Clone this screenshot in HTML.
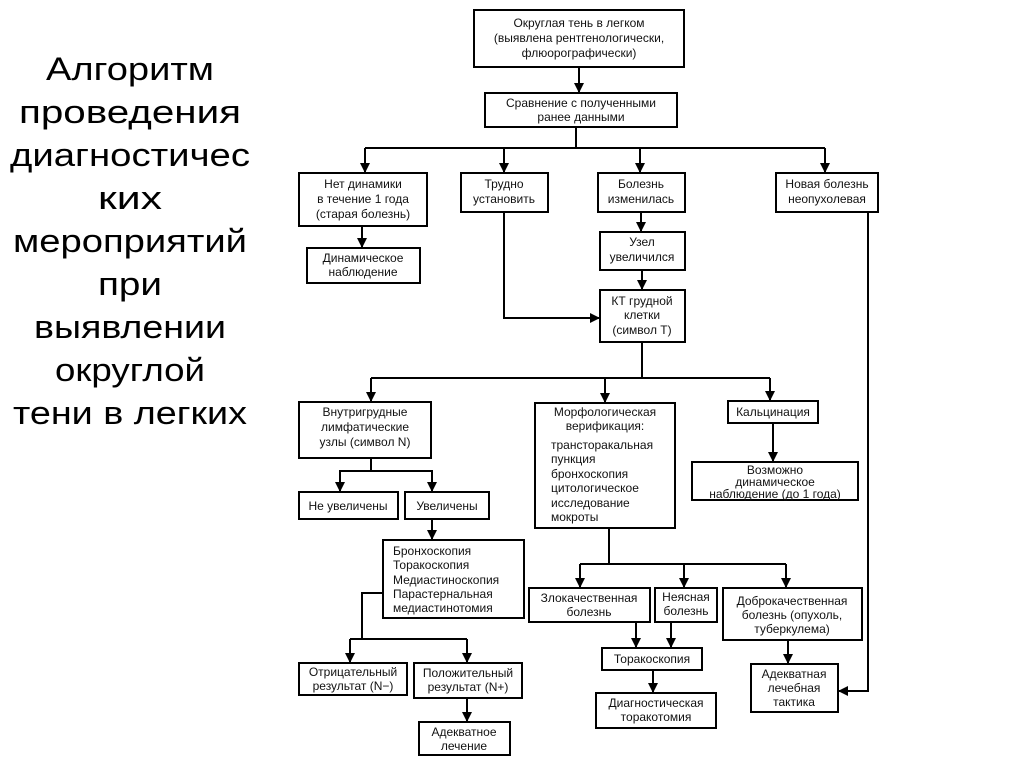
<!DOCTYPE html>
<html><head><meta charset="utf-8"><style>
html,body{margin:0;padding:0;background:#fff;width:1024px;height:768px;overflow:hidden}
svg{display:block}
.t{font-family:"Liberation Sans",Arial,sans-serif;font-size:32px;fill:#000;text-anchor:middle}
.b{font-family:"Liberation Sans",Arial,sans-serif;font-size:12px;fill:#111;text-anchor:middle}
.l{font-family:"Liberation Sans",Arial,sans-serif;font-size:12px;fill:#111;text-anchor:start}
rect{fill:#fff;stroke:#000;stroke-width:2}
line,polyline{stroke:#000;stroke-width:2;fill:none}
</style></head><body>
<svg width="1024" height="768" viewBox="0 0 1024 768" xmlns="http://www.w3.org/2000/svg">
<defs><marker id="a" markerWidth="10" markerHeight="10" refX="9" refY="5" orient="auto" markerUnits="userSpaceOnUse"><path d="M0,0 L10,5 L0,10 z" fill="#000"/></marker></defs>
<g>
<text class="t" x="130" y="80" textLength="168" lengthAdjust="spacingAndGlyphs">Алгоритм</text>
<text class="t" x="130" y="123" textLength="222" lengthAdjust="spacingAndGlyphs">проведения</text>
<text class="t" x="130" y="166" textLength="240" lengthAdjust="spacingAndGlyphs">диагностичес</text>
<text class="t" x="130" y="209" textLength="64" lengthAdjust="spacingAndGlyphs">ких</text>
<text class="t" x="130" y="252" textLength="234" lengthAdjust="spacingAndGlyphs">мероприятий</text>
<text class="t" x="130" y="295" textLength="64" lengthAdjust="spacingAndGlyphs">при</text>
<text class="t" x="130" y="338" textLength="192" lengthAdjust="spacingAndGlyphs">выявлении</text>
<text class="t" x="130" y="381" textLength="150" lengthAdjust="spacingAndGlyphs">округлой</text>
<text class="t" x="130" y="424" textLength="234" lengthAdjust="spacingAndGlyphs">тени в легких</text>
</g>
<line x1="579" y1="67" x2="579" y2="92" marker-end="url(#a)"/>
<line x1="576" y1="127" x2="576" y2="147"/>
<line x1="365" y1="148" x2="825" y2="148"/>
<line x1="365" y1="148" x2="365" y2="172" marker-end="url(#a)"/>
<line x1="504" y1="148" x2="504" y2="172" marker-end="url(#a)"/>
<line x1="640" y1="148" x2="640" y2="172" marker-end="url(#a)"/>
<line x1="825" y1="148" x2="825" y2="172" marker-end="url(#a)"/>
<line x1="362" y1="226" x2="362" y2="247" marker-end="url(#a)"/>
<line x1="641" y1="212" x2="641" y2="231" marker-end="url(#a)"/>
<line x1="642" y1="270" x2="642" y2="289" marker-end="url(#a)"/>
<polyline points="504,212 504,318 599,318" marker-end="url(#a)"/>
<polyline points="868,212 868,691 839,691" marker-end="url(#a)"/>
<line x1="642" y1="342" x2="642" y2="378"/>
<line x1="371" y1="378" x2="770" y2="378"/>
<line x1="371" y1="378" x2="371" y2="401" marker-end="url(#a)"/>
<line x1="605" y1="378" x2="605" y2="402" marker-end="url(#a)"/>
<line x1="770" y1="378" x2="770" y2="400" marker-end="url(#a)"/>
<line x1="773" y1="423" x2="773" y2="461" marker-end="url(#a)"/>
<line x1="371" y1="458" x2="371" y2="471"/>
<polyline points="340,491 340,471 432,471 432,491"/>
<line x1="340" y1="480" x2="340" y2="491" marker-end="url(#a)"/>
<line x1="432" y1="480" x2="432" y2="491" marker-end="url(#a)"/>
<line x1="432" y1="519" x2="432" y2="539" marker-end="url(#a)"/>
<polyline points="383,593 362,593 362,639 467,639"/>
<line x1="350" y1="639" x2="362" y2="639"/>
<line x1="350" y1="639" x2="350" y2="662" marker-end="url(#a)"/>
<line x1="467" y1="639" x2="467" y2="662" marker-end="url(#a)"/>
<line x1="467" y1="698" x2="467" y2="721" marker-end="url(#a)"/>
<line x1="609" y1="528" x2="609" y2="564"/>
<line x1="580" y1="564" x2="786" y2="564"/>
<line x1="580" y1="564" x2="580" y2="587" marker-end="url(#a)"/>
<line x1="684" y1="564" x2="684" y2="587" marker-end="url(#a)"/>
<line x1="786" y1="564" x2="786" y2="587" marker-end="url(#a)"/>
<line x1="636" y1="622" x2="636" y2="647" marker-end="url(#a)"/>
<line x1="671" y1="622" x2="671" y2="647" marker-end="url(#a)"/>
<line x1="653" y1="670" x2="653" y2="692" marker-end="url(#a)"/>
<line x1="788" y1="640" x2="788" y2="663" marker-end="url(#a)"/>
<rect x="474" y="10" width="210" height="57"/>
<text class="b" x="579" y="27">Округлая тень в легком</text>
<text class="b" x="579" y="42">(выявлена рентгенологически,</text>
<text class="b" x="579" y="57">флюорографически)</text>
<rect x="485" y="93" width="192" height="34"/>
<text class="b" x="581" y="107">Сравнение с  полученными</text>
<text class="b" x="581" y="121">ранее данными</text>
<rect x="299" y="173" width="128" height="53"/>
<text class="b" x="363" y="188">Нет динамики</text>
<text class="b" x="363" y="203">в течение 1 года</text>
<text class="b" x="363" y="218">(старая болезнь)</text>
<rect x="461" y="173" width="87" height="39"/>
<text class="b" x="504" y="188">Трудно</text>
<text class="b" x="504" y="203">установить</text>
<rect x="598" y="173" width="87" height="39"/>
<text class="b" x="641" y="188">Болезнь</text>
<text class="b" x="641" y="203">изменилась</text>
<rect x="776" y="173" width="102" height="39"/>
<text class="b" x="827" y="188">Новая болезнь</text>
<text class="b" x="827" y="203">неопухолевая</text>
<rect x="307" y="248" width="113" height="35"/>
<text class="b" x="363" y="262">Динамическое</text>
<text class="b" x="363" y="276">наблюдение</text>
<rect x="600" y="232" width="85" height="38"/>
<text class="b" x="642" y="246">Узел</text>
<text class="b" x="642" y="261">увеличился</text>
<rect x="600" y="290" width="85" height="52"/>
<text class="b" x="642" y="305">КТ грудной</text>
<text class="b" x="642" y="319">клетки</text>
<text class="b" x="642" y="334">(символ Т)</text>
<rect x="299" y="402" width="132" height="56"/>
<text class="b" x="365" y="416">Внутригрудные</text>
<text class="b" x="365" y="431">лимфатические</text>
<text class="b" x="365" y="446">узлы (символ N)</text>
<rect x="535" y="403" width="140" height="125"/>
<text class="b" x="605" y="416">Морфологическая</text>
<text class="b" x="605" y="430">верификация:</text>
<text class="l" x="551" y="449">трансторакальная</text>
<text class="l" x="551" y="463">пункция</text>
<text class="l" x="551" y="478">бронхоскопия</text>
<text class="l" x="551" y="492">цитологическое</text>
<text class="l" x="551" y="507">исследование</text>
<text class="l" x="551" y="521">мокроты</text>
<rect x="728" y="401" width="90" height="22"/>
<text class="b" x="773" y="416">Кальцинация</text>
<rect x="692" y="462" width="166" height="38"/>
<text class="b" x="775" y="474">Возможно</text>
<text class="b" x="775" y="486">динамическое</text>
<text class="b" x="775" y="498">наблюдение (до 1 года)</text>
<rect x="299" y="492" width="99" height="27"/>
<text class="b" x="348" y="510">Не увеличены</text>
<rect x="405" y="492" width="84" height="27"/>
<text class="b" x="447" y="510">Увеличены</text>
<rect x="383" y="540" width="141" height="78"/>
<text class="l" x="393" y="555">Бронхоскопия</text>
<text class="l" x="393" y="569">Торакоскопия</text>
<text class="l" x="393" y="584">Медиастиноскопия</text>
<text class="l" x="393" y="598">Парастернальная</text>
<text class="l" x="393" y="612">медиастинотомия</text>
<rect x="299" y="663" width="108" height="32"/>
<text class="b" x="353" y="676">Отрицательный</text>
<text class="b" x="353" y="690">результат (N−)</text>
<rect x="414" y="663" width="108" height="35"/>
<text class="b" x="468" y="677">Положительный</text>
<text class="b" x="468" y="691">результат (N+)</text>
<rect x="419" y="722" width="91" height="33"/>
<text class="b" x="464" y="736">Адекватное</text>
<text class="b" x="464" y="750">лечение</text>
<rect x="529" y="588" width="121" height="34"/>
<text class="b" x="589" y="602">Злокачественная</text>
<text class="b" x="589" y="616">болезнь</text>
<rect x="655" y="588" width="62" height="34"/>
<text class="b" x="686" y="601">Неясная</text>
<text class="b" x="686" y="615">болезнь</text>
<rect x="723" y="588" width="139" height="52"/>
<text class="b" x="792" y="605">Доброкачественная</text>
<text class="b" x="792" y="619">болезнь (опухоль,</text>
<text class="b" x="792" y="633">туберкулема)</text>
<rect x="602" y="648" width="100" height="22"/>
<text class="b" x="652" y="663">Торакоскопия</text>
<rect x="596" y="693" width="120" height="35"/>
<text class="b" x="656" y="707">Диагностическая</text>
<text class="b" x="656" y="721">торакотомия</text>
<rect x="751" y="664" width="87" height="48"/>
<text class="b" x="794" y="678">Адекватная</text>
<text class="b" x="794" y="692">лечебная</text>
<text class="b" x="794" y="706">тактика</text>
</svg>
</body></html>
